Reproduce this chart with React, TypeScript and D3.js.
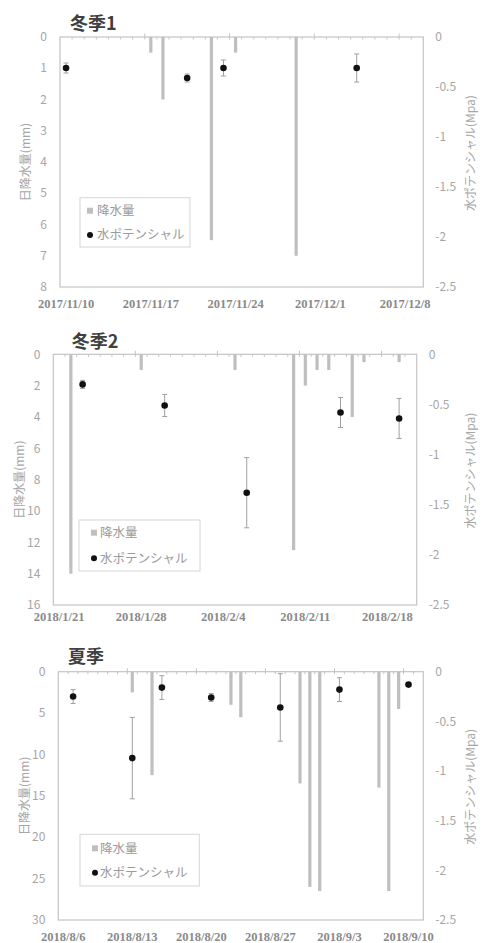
import * as d3 from "d3"

// ---- data: 冬季1 ----
const rainDates1 = ["2017-11-17", "2017-11-18", "2017-11-22", "2017-11-24", "2017-11-29"]
const rainValues1 = [0.5, 2, 6.5, 0.5, 7]
const wpDates1 = ["2017-11-10", "2017-11-20", "2017-11-23", "2017-12-04"]
const wpMeans1 = [-0.31, -0.41, -0.31, -0.31]
const wpErrors1 = [0.05, 0.04, 0.08, 0.14]

// ---- data: 冬季2 ----
const rainDates2 = [
  "2018-01-22", "2018-01-28", "2018-02-05", "2018-02-10", "2018-02-11",
  "2018-02-12", "2018-02-13", "2018-02-15", "2018-02-16", "2018-02-19",
]
const rainValues2 = [14, 1, 1, 12.5, 2, 1, 1, 4, 0.5, 0.5]
const wpDates2 = ["2018-01-23", "2018-01-30", "2018-02-06", "2018-02-14", "2018-02-19"]
const wpMeans2 = [-0.3, -0.51, -1.38, -0.58, -0.64]
const wpErrors2 = [0.04, 0.11, 0.35, 0.15, 0.2]

// ---- data: 夏季 ----
const rainDates3 = [
  "2018-08-13", "2018-08-15", "2018-08-23", "2018-08-24", "2018-08-30",
  "2018-08-31", "2018-09-01", "2018-09-07", "2018-09-08", "2018-09-09",
]
const rainValues3 = [2.5, 12.5, 4, 5.5, 13.5, 26, 26.5, 14, 26.5, 4.5]
const wpDates3 = ["2018-08-07", "2018-08-13", "2018-08-16", "2018-08-21", "2018-08-28", "2018-09-03", "2018-09-10"]
const wpMeans3 = [-0.25, -0.87, -0.16, -0.26, -0.36, -0.18, -0.13]
const wpErrors3 = [0.07, 0.41, 0.12, 0.04, 0.34, 0.12, 0.01]

// axis settings
const titles = ["冬季1", "冬季2", "夏季"]
const axisStarts = ["2017-11-10", "2018-01-21", "2018-08-06"]
const axisDays = [30, 31, 37]
const rainMax = [8, 16, 30]
const rainStep = [1, 2, 5]
const wpTicks = [0, -0.5, -1, -1.5, -2, -2.5]

const leftTitle = "日降水量(mm)"
const rightTitle = "水ポテンシャル(Mpa)"
const legendRain = "降水量"
const legendWp = "水ポテンシャル"

// layout of each panel
const layouts = [
  { left: 60, right: 423.3, top: 37, bottom: 287, titleX: 70, titleY: 29.5, labelY: 308,
    leg: { x: 80, y: 197.7, w: 110, h: 49.3, mx: 90, tx: 97, r1: 210.7, r2: 235 } },
  { left: 53.3, right: 416.7, top: 354.3, bottom: 605, titleX: 71.7, titleY: 347.5, labelY: 621,
    leg: { x: 79, y: 520, w: 121, h: 51, mx: 94, tx: 100, r1: 532.7, r2: 558.3 } },
  { left: 58.3, right: 423.3, top: 671.7, bottom: 920, titleX: 68, titleY: 663, labelY: 941,
    leg: { x: 80, y: 834.3, w: 119.3, h: 51.7, mx: 95, tx: 100, r1: 848.3, r2: 872.7 } },
]

const parse = d3.utcParse("%Y-%m-%d")
const fmt = d3.utcFormat("%Y/%-m/%-d")
const HALF = 12 * 3600 * 1000

const jp = "'Noto Sans CJK JP', 'Noto Sans', sans-serif"
const gridColor = "#c4c4c4"
const textGray = "#a6a6a6"

type PanelProps = {
  idx: number
  rainDates: string[]
  rainValues: number[]
  wpDates: string[]
  wpMeans: number[]
  wpErrors: number[]
}

function Panel({ idx, rainDates, rainValues, wpDates, wpMeans, wpErrors }: PanelProps) {
  const L = layouts[idx]
  const start = parse(axisStarts[idx])!
  const days = axisDays[idx]

  const x = d3
    .scaleUtc()
    .domain([new Date(+start - HALF), new Date(+d3.utcDay.offset(start, days) - HALF)])
    .range([L.left, L.right])
  const yL = d3.scaleLinear().domain([0, rainMax[idx]]).range([L.top, L.bottom])
  const yR = d3.scaleLinear().domain([0, -2.5]).range([L.top, L.bottom])

  const leftTicks = d3.range(0, rainMax[idx] + 0.001, rainStep[idx])
  const boundaries = d3.range(1, days).map((k) => ({
    k,
    x: x(new Date(+d3.utcDay.offset(start, k) - HALF)),
  }))
  const labels = d3.range(0, days, 7).map((k) => d3.utcDay.offset(start, k))
  const midY = (L.top + L.bottom) / 2
  const capW = 2.5

  return (
    <g>
      <text x={L.titleX} y={L.titleY} fontFamily={jp} fontSize={18} fontWeight="bold" fill="#404040">
        {titles[idx]}
      </text>

      {/* plot frame */}
      <rect x={L.left} y={L.top} width={L.right - L.left} height={L.bottom - L.top}
        fill="none" stroke={gridColor} strokeWidth={1.2} />

      {/* day ticks along the top axis */}
      {boundaries.map((b) => (
        <line key={b.k} x1={b.x} x2={b.x} y1={b.k % 7 === 0 ? L.top - 3.5 : L.top}
          y2={L.top + 2.5} stroke={gridColor} strokeWidth={1} />
      ))}

      {/* rain bars, hanging from the top */}
      {rainDates.map((d, i) => {
        const cx = x(parse(d)!)
        return (
          <rect key={d} x={cx - 1.6} y={yL(0)} width={3.2} height={yL(rainValues[i]) - yL(0)} fill="#bfbfbf" />
        )
      })}

      {/* water potential with error bars */}
      {wpDates.map((d, i) => {
        const cx = x(parse(d)!)
        const y1 = yR(wpMeans[i] + wpErrors[i])
        const y2 = yR(wpMeans[i] - wpErrors[i])
        return (
          <g key={d} stroke="#a0a0a0" strokeWidth={1}>
            <line x1={cx} x2={cx} y1={y1} y2={y2} />
            <line x1={cx - capW} x2={cx + capW} y1={y1} y2={y1} />
            <line x1={cx - capW} x2={cx + capW} y1={y2} y2={y2} />
            <circle cx={cx} cy={yR(wpMeans[i])} r={3.3} fill="#111" stroke="none" />
          </g>
        )
      })}

      {/* left axis labels */}
      {leftTicks.map((t) => (
        <text key={t} x={L.left - 13} y={yL(t)} dy="0.35em" textAnchor="end"
          fontFamily={jp} fontSize={12} fill={textGray}>
          {t}
        </text>
      ))}
      {/* right axis labels */}
      {wpTicks.map((t) => (
        <text key={t} x={L.right + 12} y={yR(t)} dy="0.35em" textAnchor="start"
          fontFamily={jp} fontSize={12} fill={textGray}>
          {t}
        </text>
      ))}
      {/* date labels */}
      {labels.map((d) => (
        <text key={+d} x={x(d)} y={L.labelY} textAnchor="middle"
          fontFamily="'Liberation Serif', 'DejaVu Serif', serif" fontWeight="bold"
          fontSize={12.5} fill="#8a8a8a">
          {fmt(d)}
        </text>
      ))}

      <text transform={`translate(${L.left - 34},${midY}) rotate(-90)`} textAnchor="middle"
        dy="0.35em" fontFamily={jp} fontSize={12} fill={textGray}>
        {leftTitle}
      </text>
      <text transform={`translate(471,${midY - 9}) rotate(-90)`} textAnchor="middle"
        dy="0.35em" fontFamily={jp} fontSize={12} fill={textGray}>
        {rightTitle}
      </text>

      {/* legend */}
      <rect x={L.leg.x} y={L.leg.y} width={L.leg.w} height={L.leg.h} fill="#fff" stroke="#d6d6d6" strokeWidth={1} />
      <rect x={L.leg.mx - 3} y={L.leg.r1 - 3} width={6} height={6} fill="#bfbfbf" />
      <text x={L.leg.tx} y={L.leg.r1} dy="0.35em" fontFamily={jp} fontSize={12.5} fill="#9a9a9a">
        {legendRain}
      </text>
      <circle cx={L.leg.mx} cy={L.leg.r2} r={3} fill="#111" />
      <text x={L.leg.tx} y={L.leg.r2} dy="0.35em" fontFamily={jp} fontSize={12.5} fill="#9a9a9a">
        {legendWp}
      </text>
    </g>
  )
}

export default function App() {
  return (
    <svg width={489} height={943} style={{ position: "absolute", left: 0, top: 0, background: "#fff" }}>
      <rect width={489} height={943} fill="#fff" />
      <Panel idx={0} rainDates={rainDates1} rainValues={rainValues1}
        wpDates={wpDates1} wpMeans={wpMeans1} wpErrors={wpErrors1} />
      <Panel idx={1} rainDates={rainDates2} rainValues={rainValues2}
        wpDates={wpDates2} wpMeans={wpMeans2} wpErrors={wpErrors2} />
      <Panel idx={2} rainDates={rainDates3} rainValues={rainValues3}
        wpDates={wpDates3} wpMeans={wpMeans3} wpErrors={wpErrors3} />
    </svg>
  )
}
